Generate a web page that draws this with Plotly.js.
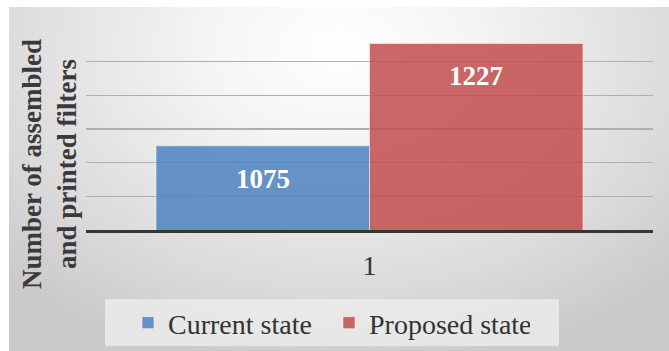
<!DOCTYPE html>
<html>
<head>
<meta charset="utf-8">
<script src="https://cdn.plot.ly/plotly-3.0.1.min.js"></script>
<style>
  html, body { margin: 0; padding: 0; background: #ffffff; }
  #wrap { position: relative; width: 669px; height: 351px; overflow: hidden; }
  #bg { position: absolute; left: 9px; top: 7px; right: 0; bottom: 0;
        background: radial-gradient(ellipse 70% 95% at 50% 12%, #ffffff 0%, #f4f4f4 30%, #dcdcdc 72%, #cacaca 100%); }
  #chart { position: absolute; left: 0; top: 0; width: 669px; height: 351px; }
</style>
</head>
<body>
<div id="wrap"><div id="bg"></div><div id="chart"></div></div>
<script>
const categories = ["1"];
const seriesNames = ["Current state", "Proposed state"];
const currentValues = [1075];
const proposedValues = [1227];
const seriesColors = ["rgba(76,131,192,0.85)", "rgba(194,76,76,0.85)"];
const yTitleLines = ["Number of assembled", "and printed filters"];

const SERIF = "Liberation Serif";

const allValues = [currentValues, proposedValues];
const traces = allValues.map((vals, i) => ({
  type: "bar",
  name: seriesNames[i],
  x: categories,
  y: vals,
  marker: { color: seriesColors[i], line: { color: "rgba(255,255,255,0.5)", width: 1 } },
  hoverinfo: "none"
}));

// value labels anchored at each bar's value via the axes, shifted down into the bar
const barShift = [-106.7, 106.7];
const annotations = [];
allValues.forEach((vals, i) => {
  vals.forEach((v, j) => {
    annotations.push({
      x: j, y: v, xref: "x", yref: "y",
      text: String(v), showarrow: false,
      xshift: barShift[i], yshift: -33, yanchor: "middle",
      font: { family: SERIF, size: 27, weight: 700, color: "#ffffff" }
    });
  });
});

// y-axis title (Excel centres it on the chart rather than on the plot area)
annotations.push({
  xref: "paper", yref: "paper", x: (49 - 86) / 567, y: (230 - 164) / 202,
  xanchor: "center", yanchor: "middle", textangle: -90, showarrow: false,
  text: yTitleLines.join("<br>"),
  font: { family: SERIF, size: 27, weight: 700, color: "#3a3a3a" }
});

const layout = {
  width: 669, height: 351,
  margin: { l: 86, r: 16, t: 28, b: 121 },
  paper_bgcolor: "rgba(0,0,0,0)",
  plot_bgcolor: "rgba(0,0,0,0)",
  font: { family: SERIF, color: "#404040" },
  barmode: "group",
  bargap: 0.247,
  bargroupgap: 0,
  showlegend: true,
  legend: {
    orientation: "h", x: 128 / 669, xanchor: "left", xref: "container",
    y: 1 - 323 / 351, yref: "container", yanchor: "middle",
    font: { size: 28, color: "#333333", family: SERIF },
    bgcolor: "rgba(0,0,0,0)", itemwidth: 30, traceorder: "normal",
    entrywidth: 156, entrywidthmode: "pixels",
    itemclick: false
  },
  xaxis: {
    type: "category",
    showgrid: false, zeroline: false,
    showline: true, linecolor: "#363636", linewidth: 3,
    ticks: "", ticklabelstandoff: 8,
    tickfont: { size: 28, color: "#333333", family: SERIF }
  },
  yaxis: {
    range: [950, 1250], dtick: 50, tick0: 950,
    showticklabels: false, ticks: "",
    showgrid: true, gridcolor: "#afafaf", gridwidth: 1.5,
    zeroline: false, showline: false
  },
  shapes: [{
    type: "rect", xref: "paper", yref: "paper",
    x0: (105 - 86) / 567, x1: (559 - 86) / 567, y0: (230 - 299) / 202, y1: (230 - 346) / 202,
    fillcolor: "rgba(236,236,236,0.8)", line: { width: 0 }, layer: "below"
  }],
  annotations: annotations
};

Plotly.newPlot("chart", traces, layout, { displayModeBar: false, staticPlot: true });
</script>
</body>
</html>
